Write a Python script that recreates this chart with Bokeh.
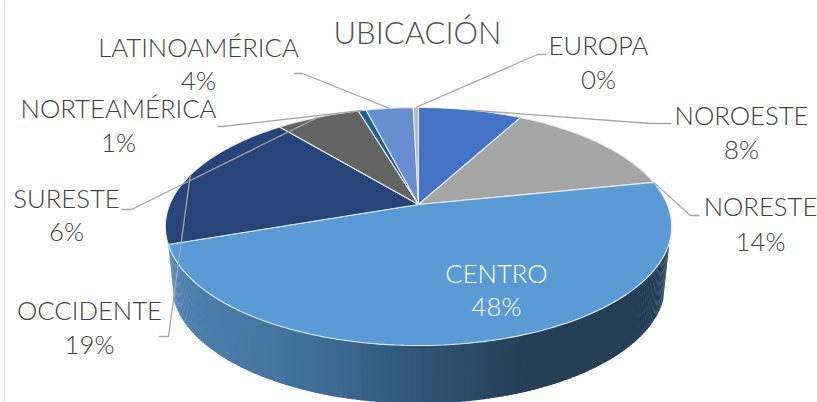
import math
from bokeh.plotting import figure
from bokeh.models import Range1d
from bokeh.core.properties import value
from bokeh.embed import file_html
from bokeh.resources import INLINE

title = "UBICACIÓN"
categories = ["NOROESTE", "NORESTE", "CENTRO", "OCCIDENTE", "SURESTE", "NORTEAMÉRICA", "LATINOAMÉRICA", "EUROPA"]
values = [7.9, 13.9, 47.9, 19.3, 6.4, 0.6, 3.6, 0.4]
percent_labels = ["8%", "14%", "48%", "19%", "6%", "1%", "4%", "0%"]
colors = ["#4472C4", "#A5A5A5", "#5B9BD5", "#264478", "#636363", "#255E91", "#698ED0", "#B9B9B9"]

# layout (image pixels)
W, H = 817, 402
CX, CY, A, Q, K = 418.0, 204.0, 248.8, -77.2, 0.185
DEPTH, BOTTOM_SCALE = 58.0, 0.975
label_pos = {
    "NOROESTE": (741, 114.5, 148.5), "NORESTE": (760, 205.5, 240.5), "CENTRO": (496, 272.5, 305.5),
    "OCCIDENTE": (89, 309.5, 343.5), "SURESTE": (66, 197.5, 230.5), "NORTEAMÉRICA": (118, 107.5, 141.5),
    "LATINOAMÉRICA": (198, 46.5, 79.5), "EUROPA": (598, 44.5, 78.5),
}
leader_elbows = {
    "NOROESTE": [(671, 123), (650, 123)], "NORESTE": [(699, 215), (690, 215)],
    "OCCIDENTE": [(158, 336), (168, 336)], "SURESTE": [(121, 209), (131, 209)],
    "NORTEAMÉRICA": [(217, 126), (222, 126)], "LATINOAMÉRICA": [(293, 73), (302, 73)],
    "EUROPA": [(546, 54), (537, 54)],
}
leader_anchor = {"NORESTE": 1.0}
wall_stops = [(170, (80, 130, 176)), (300, (66, 112, 155)), (420, (48, 84, 116)), (530, (36, 63, 86)), (680, (36, 63, 86))]


def rim(deg):
    t = math.radians(deg)
    u, v = math.sin(t), math.cos(t)
    w = 1 + K * v
    return CX + A * u / w, (CY + Q * v) / w


def wall_color(x):
    for (x0, c0), (x1, c1) in zip(wall_stops, wall_stops[1:]):
        if x <= x1:
            f = max(0.0, (x - x0) / (x1 - x0))
            return "#%02x%02x%02x" % tuple(round(a + (b - a) * f) for a, b in zip(c0, c1))
    return "#243f56"


total = sum(values)
cum = [0.0]
for val in values:
    cum.append(cum[-1] + val / total * 360)

p = figure(width=W, height=H, x_range=Range1d(0, W), y_range=Range1d(H, 0),
           output_backend="svg", toolbar_location=None, min_border=0,
           outline_line_color=None, background_fill_color="white", border_fill_color="white")
p.axis.visible = False
p.grid.visible = False

# faint frame edge at the left of the picture
p.line([4, 4], [0, H], line_color="#E2E2E2", line_width=1.5)

# side wall: the front of the largest slice, shaded left to right
wall_start, wall_end = 108.0, cum[3]
steps = 150
xs, ys, cols = [], [], []
for i in range(steps):
    a0 = wall_start + (wall_end - wall_start) * i / steps
    a1 = wall_start + (wall_end - wall_start) * (i + 1.3) / steps
    a1 = min(a1, wall_end)
    x0, y0 = rim(a0)
    x1, y1 = rim(a1)
    xs.append([x0, x1, CX + (x1 - CX) * BOTTOM_SCALE, CX + (x0 - CX) * BOTTOM_SCALE])
    ys.append([y0, y1, y1 + DEPTH, y0 + DEPTH])
    cols.append(wall_color((x0 + x1) / 2))
p.patches(xs, ys, fill_color=cols, line_color=None)

# top face
for i, cat in enumerate(categories):
    n = max(4, int((cum[i + 1] - cum[i]) / 1.5))
    pts = [rim(cum[i] + (cum[i + 1] - cum[i]) * j / n) for j in range(n + 1)]
    p.patch([CX] + [q[0] for q in pts], [CY] + [q[1] for q in pts],
            fill_color=colors[i], line_color="#E4E9F0", line_width=1.1)

# leader lines
for i, cat in enumerate(categories):
    if cat not in leader_elbows:
        continue
    f = leader_anchor.get(cat, 0.5)
    ax, ay = rim(cum[i] + (cum[i + 1] - cum[i]) * f)
    e = leader_elbows[cat]
    p.line([e[0][0], e[1][0], ax], [e[0][1], e[1][1], ay], line_color="#A6A6A6", line_width=1.3)

# labels
font = value("Lato Light")
for i, cat in enumerate(categories):
    lx, y1, y2 = label_pos[cat]
    col = "#FFFFFF" if cat == "CENTRO" else "#404040"
    p.text([lx, lx], [y1, y2], text=[cat, percent_labels[i]], text_font=font, text_font_size="25.7px",
           text_color=col, text_align="center", text_baseline="middle")
p.text([417], [31], text=[title], text_font=font, text_font_size="31px", text_color="#505050",
       text_align="center", text_baseline="middle")

open("out.html", "w").write(file_html(p, INLINE))
